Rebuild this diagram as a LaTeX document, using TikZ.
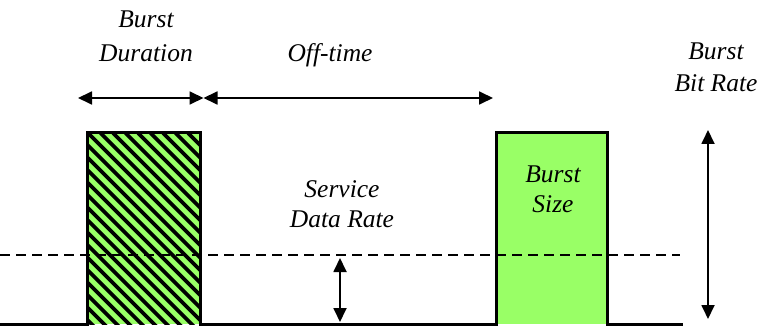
\documentclass[tikz,border=0pt]{standalone}
\usepackage{fontspec}
\setmainfont{Liberation Serif}
\usetikzlibrary{arrows.meta}
\definecolor{burstgreen}{RGB}{153,255,102}
\tikzset{
  lbl/.style={font=\fontsize{25.5}{33}\selectfont\itshape, align=center, anchor=base, inner sep=0pt},
  sig/.style={line width=3pt, line join=miter},
  dim/.style={line width=1.8pt, {Triangle[length=14pt,width=13pt]}-{Triangle[length=14pt,width=13pt]}},
  svc/.style={line width=1.6pt, dash pattern=on 10pt off 6pt},
  hatch/.style={line width=3.6pt}
}
\begin{document}
\begin{tikzpicture}[x=1pt,y=1pt]
\useasboundingbox (0,0) rectangle (760,327);
% coordinates
\coordinate (b0) at (0,3);
\coordinate (p1l) at (87.5,3);
\coordinate (p1tl) at (87.5,194);
\coordinate (p1tr) at (200,194);
\coordinate (p1r) at (200,3);
\coordinate (p2l) at (496.5,3);
\coordinate (p2tl) at (496.5,194);
\coordinate (p2tr) at (607.5,194);
\coordinate (p2r) at (607.5,3);
\coordinate (bend) at (683,3);
% fills
\fill[burstgreen] (p1l) rectangle (p1tr);
\begin{scope}
  \clip (p1l) rectangle (p1tr);
  \foreach \s in {-212,-199.5,...,130}
    \draw[hatch] (87.5+\s,194) -- ++(210,-210);
\end{scope}
\fill[burstgreen] (p2l) rectangle (p2tr);
% dashed service rate line
\coordinate (d0) at (0,72);
\coordinate (d1) at (680,72);
\draw[svc] (d0) -- (d1);
% signal
\draw[sig] (b0) -- (p1l) -- (p1tl) -- (p1tr) -- (p1r) -- (p2l) -- (p2tl) -- (p2tr) -- (p2r) -- (bend);
% dimension arrows
\coordinate (a1) at (78,229);
\coordinate (a2) at (203.5,229);
\coordinate (a3) at (493,229);
\draw[dim] (a1) -- (a2);
\draw[dim] (a2) -- (a3);
\coordinate (s1) at (340,69);
\coordinate (s2) at (340,5);
\draw[dim] (s1) -- (s2);
\coordinate (r1) at (708,197);
\coordinate (r2) at (708,8);
\draw[dim] (r1) -- (r2);
% labels
\node[lbl, font=\fontsize{25.5}{34}\selectfont\itshape] (tdur) at (146,265) {Burst\\Duration};
\node[lbl] (toff) at (330,265) {Off-time};
\node[lbl, font=\fontsize{25.5}{32}\selectfont\itshape] (tbbr) at (716,235) {Burst\\Bit Rate};
\node[lbl, font=\fontsize{25.5}{30}\selectfont\itshape] (tsdr) at (342,100) {Service\\Data Rate};
\node[lbl, font=\fontsize{25.5}{31}\selectfont\itshape] (tbs) at (553,114) {Burst\\Size};
\end{tikzpicture}
\end{document}
